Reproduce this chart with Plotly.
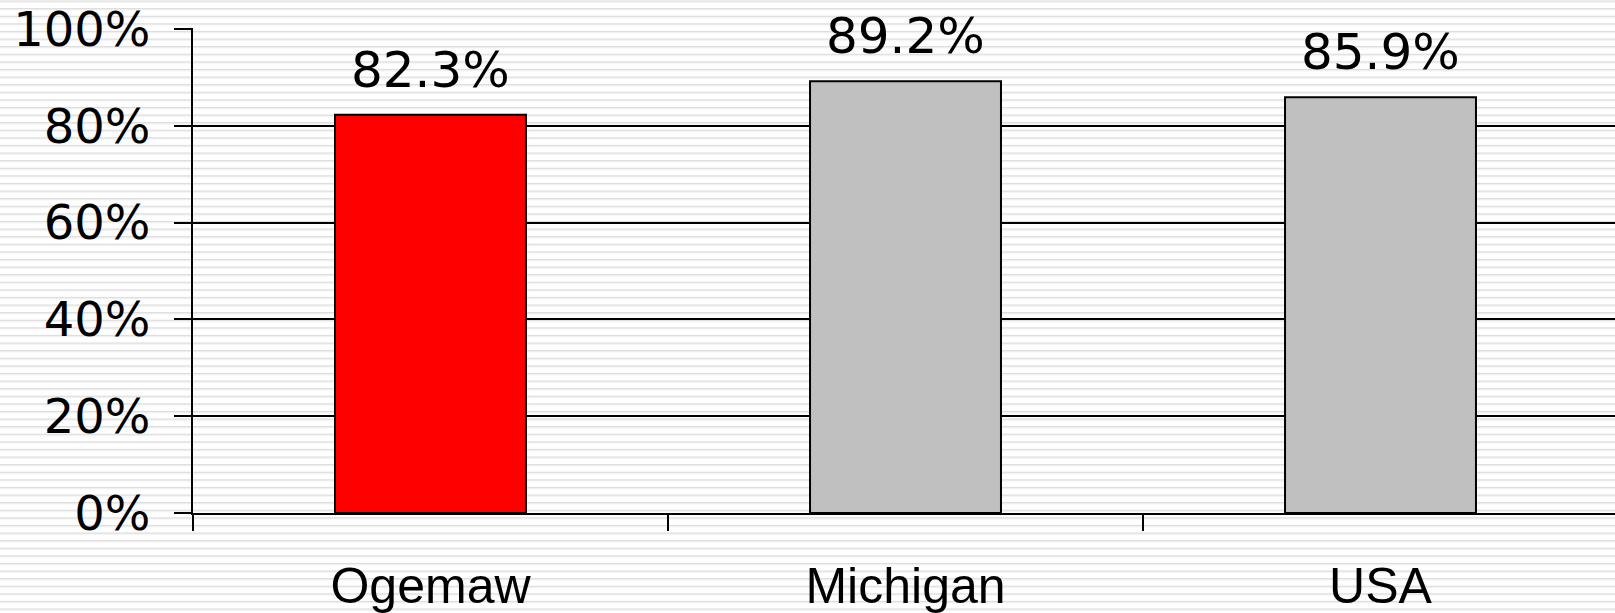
import base64
import plotly.graph_objects as go

categories = ["Ogemaw", "Michigan", "USA"]
values = [82.3, 89.2, 85.9]
bar_colors = ["#ff0000", "#c0c0c0", "#c0c0c0"]
y_ticks = [0, 20, 40, 60, 80, 100]
y_tick_labels = [f"{v}%" for v in y_ticks]
value_labels = [f"{v:.1f}%" for v in values]

W, H = 1615, 613
ML, MR, MT, MB = 193, 0, 28, 100
PW, PH = W - ML - MR, H - MT - MB
Y_MAX = 100.2

# striped background as an svg pattern covering the whole figure
svg = (
    f'<svg xmlns="http://www.w3.org/2000/svg" width="{W}" height="{H}" viewBox="0 0 {W} {H}" preserveAspectRatio="none">'
    '<defs><pattern id="p" x="0" y="0.5" width="10" height="7.6" patternUnits="userSpaceOnUse">'
    '<rect x="0" y="0" width="10" height="1.3" fill="#dcdcdc"/>'
    '<rect x="0" y="1.3" width="10" height="0.9" fill="#ececec"/>'
    '</pattern></defs>'
    f'<rect x="0" y="0" width="{W}" height="{H}" fill="#ffffff"/>'
    f'<rect x="0" y="0" width="{W}" height="{H}" fill="url(#p)"/>'
    '</svg>'
)
svg_uri = "data:image/svg+xml;base64," + base64.b64encode(svg.encode()).decode()

fig = go.Figure()
fig.add_trace(go.Bar(
    x=categories,
    y=values,
    marker=dict(color=bar_colors, line=dict(color="#000000", width=2)),
    showlegend=False,
    hoverinfo="skip",
))

for c, v, t in zip(categories, values, value_labels):
    fig.add_annotation(
        x=c, y=v, text=t, showarrow=False, yanchor="bottom", yshift=14,
        font=dict(family="DejaVu Sans", size=50, color="#000000"),
    )

fig.update_layout(
    width=W, height=H,
    margin=dict(l=ML, r=MR, t=MT, b=MB, pad=0, autoexpand=False),
    paper_bgcolor="rgba(0,0,0,0)",
    plot_bgcolor="rgba(0,0,0,0)",
    bargap=0.598,
    hovermode=False,
    images=[dict(
        source=svg_uri, xref="paper", yref="paper",
        x=-ML / PW, y=1 + MT / PH, sizex=W / PW, sizey=H / PH,
        xanchor="left", yanchor="top", sizing="stretch", layer="below",
    )],
    xaxis=dict(
        automargin=False,
        range=[-0.5, -0.5 + PW / 475.0],
        tickson="boundaries",
        ticks="outside", ticklen=16, tickwidth=2, tickcolor="#000000",
        showline=True, linecolor="#000000", linewidth=2,
        showgrid=False,
        tickfont=dict(family="Liberation Sans", size=50, color="#000000"),
        ticklabelstandoff=28,
    ),
    yaxis=dict(
        automargin=False,
        range=[0, Y_MAX],
        tickvals=y_ticks, ticktext=y_tick_labels,
        ticks="outside", ticklen=17, tickwidth=2, tickcolor="#000000",
        showline=True, linecolor="#000000", linewidth=2,
        showgrid=True, gridcolor="#000000", gridwidth=2,
        zeroline=False,
        tickfont=dict(family="DejaVu Sans", size=48, color="#000000"),
        ticklabelstandoff=14,
    ),
)

fig.write_html(
    "out.html",
    config={"displayModeBar": False, "staticPlot": True},
    post_script="document.body.style.margin='0';document.body.style.overflow='hidden';",
)
